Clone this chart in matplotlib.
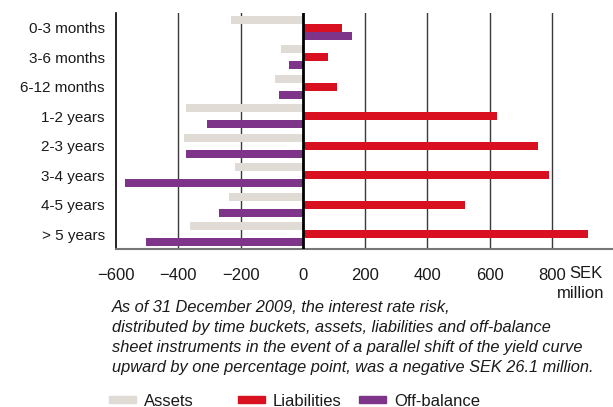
import numpy as np
import matplotlib.pyplot as plt
from matplotlib.patches import Rectangle

plt.rcParams['font.family'] = ['Liberation Sans', 'DejaVu Sans']

buckets = ['0-3 months', '3-6 months', '6-12 months', '1-2 years',
           '2-3 years', '3-4 years', '4-5 years', '> 5 years']
assets = [-230, -70, -89, -375, -381, -219, -236, -362]
liabilities = [126, 81, 110, 624, 755, 791, 521, 916]
off_balance = [158, -44, -76, -307, -375, -570, -269, -503]
xticks = [-600, -400, -200, 0, 200, 400, 600, 800]

series_names = ['Assets', 'Liabilities', 'Off-balance']
colors = ['#e0dbd5', '#d9101f', '#7d3489']

caption = ('As of 31 December 2009, the interest rate risk,\n'
           'distributed by time buckets, assets, liabilities and off-balance\n'
           'sheet instruments in the event of a parallel shift of the yield curve\n'
           'upward by one percentage point, was a negative SEK 26.1 million.')

W, H = 613, 407
FS = 12
fig = plt.figure(figsize=(W / 100, H / 100), dpi=100)
ax = fig.add_axes([116 / W, 1 - 249 / H, (613 - 116) / W, (249 - 13) / H])

y = np.arange(len(buckets))
bh = 0.271
for k, (vals, col) in enumerate(zip([assets, liabilities, off_balance], colors)):
    ax.barh(y + (k - 1) * bh, vals, height=bh, color=col, zorder=3)

ax.set_ylim(len(buckets) - 0.5, -0.5)
ax.set_xlim(-600, 996)

# vertical gridlines, heavier line at zero
for t in xticks[1:]:
    if t == 0:
        ax.axvline(0, color='black', lw=2.0, zorder=4)
    else:
        ax.axvline(t, color='#3a3a3a', lw=1.0, zorder=1)

for s in ['top', 'right']:
    ax.spines[s].set_visible(False)
ax.spines['left'].set_color('black')
ax.spines['left'].set_linewidth(1.2)
ax.spines['bottom'].set_color('#777777')
ax.spines['bottom'].set_linewidth(1.5)

ax.set_yticks(y)
ax.set_yticklabels(buckets, fontsize=11, color='#1a1a1a')
ax.set_xticks(xticks)
ax.set_xticklabels([f'{t}'.replace('-', '\u2212') for t in xticks],
                   fontsize=FS, color='#1a1a1a')
ax.tick_params(axis='x', length=0, pad=14)
ax.tick_params(axis='y', length=0, pad=8)

fig.text(569 / W, 1 - 273 / H, 'SEK', fontsize=FS, color='#1a1a1a',
         ha='left', va='center')
fig.text(604 / W, 1 - 293 / H, 'million', fontsize=FS, color='#1a1a1a',
         ha='right', va='center')

fig.text(112 / W, 1 - 300 / H, caption, fontsize=11.8, style='italic',
         color='#1a1a1a', ha='left', va='top', linespacing=1.42)

# legend row along the bottom edge
legend_x = [109, 238, 359]
for x0, name, col in zip(legend_x, series_names, colors):
    fig.patches.append(Rectangle((x0 / W, 1 - 403 / H), 27 / W, 7 / H,
                                 transform=fig.transFigure, color=col))
    fig.text((x0 + 35) / W, 1 - 401 / H, name, fontsize=FS,
             color='#1a1a1a', ha='left', va='center')

fig.savefig('out.png', dpi=100)
